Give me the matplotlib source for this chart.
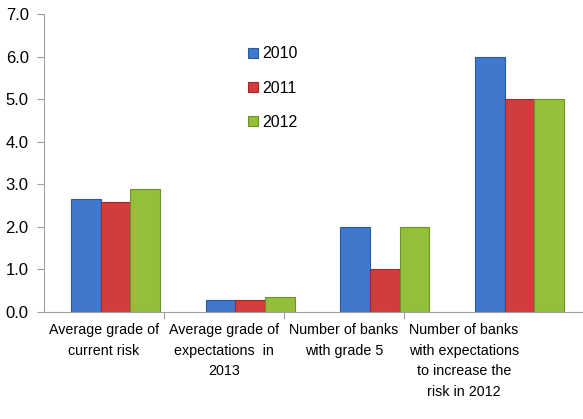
import matplotlib
matplotlib.use("Agg")
import matplotlib.pyplot as plt
import numpy as np

categories = ["Average grade of\ncurrent risk",
              "Average grade of\nexpectations  in\n2013",
              "Number of banks\nwith grade 5",
              "Number of banks\nwith expectations\nto increase the\nrisk in 2012"]
years = ["2010", "2011", "2012"]
v2010 = [2.66, 0.29, 2.0, 6.0]
v2011 = [2.58, 0.29, 1.0, 5.0]
v2012 = [2.90, 0.35, 2.0, 5.0]
yticks = [0.0, 1.0, 2.0, 3.0, 4.0, 5.0, 6.0, 7.0]

colors = ["#3f78cc", "#d23c3c", "#93bf3a"]
edges = ["#2a5a9e", "#9e2a2a", "#6d9228"]

plt.rcParams['font.family'] = ['Liberation Sans', 'DejaVu Sans']

W, H = 583, 419
fig = plt.figure(figsize=(W/100, H/100), dpi=100)
left, right, top, bot = 44, 583, 14, 312
ax = fig.add_axes([left/W, (H-bot)/H, (right-left)/W, (bot-top)/H])

x = np.arange(len(categories))
bw = 0.22
for i, (vals, c, e, lab) in enumerate(zip([v2010, v2011, v2012], colors, edges, years)):
    ax.bar(x + (i-1)*bw, vals, bw, color=c, edgecolor=e, linewidth=0.8, label=lab)

ax.set_xlim(-0.53, 3.47)
ax.set_ylim(0, 7)
ax.set_yticks(yticks)
ax.set_yticklabels([f"{t:.1f}" for t in yticks], fontsize=12)
ax.tick_params(axis='y', length=5, color='#a0a0a0', pad=6)
ax.set_xticks([])
for s in ['top', 'right']:
    ax.spines[s].set_visible(False)
ax.spines['left'].set_color('#a0a0a0')
ax.spines['bottom'].set_color('#a0a0a0')

# category label axis (480 px wide, 120 px per category)
ax2 = fig.add_axes([left/W, (H-bot)/H, 480/W, (bot-top)/H], frameon=False)
ax2.set_xlim(0, 4)
ax2.set_ylim(0, 1)
ax2.set_yticks([])
ax2.set_xticks([1, 2, 3])
ax2.set_xticklabels([])
ax2.tick_params(axis='x', length=5, color='#a0a0a0')
ax2.set_xticks([0.5, 1.5, 2.5, 3.5], minor=True)
ax2.set_xticklabels(categories, minor=True, fontsize=10.3, linespacing=1.6)
ax2.tick_params(axis='x', which='minor', length=0, pad=8)
ax2.patch.set_visible(False)

handles, labels = ax.get_legend_handles_labels()
leg = fig.legend(handles, labels, loc='upper left',
                 bbox_to_anchor=(234/W, 1 - 32/H), frameon=False,
                 fontsize=11.5, handlelength=0.6, handleheight=0.6,
                 handletextpad=0.25, labelspacing=1.2)

fig.savefig("out.png", dpi=100)
